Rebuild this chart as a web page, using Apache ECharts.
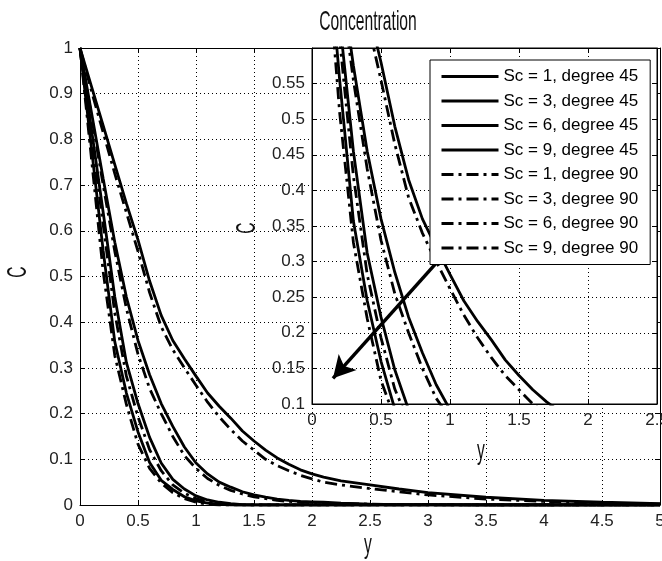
<!DOCTYPE html>
<html>
<head>
<meta charset="utf-8">
<script src="https://cdn.jsdelivr.net/npm/echarts@6/dist/echarts.min.js"></script>
<style>html,body{margin:0;padding:0;background:#fff;}#c{width:662px;height:561px;}</style>
</head>
<body>
<div id="c"></div>
<script>
// ---- data ----
const yPos = [0,0.1,0.2,0.3,0.4,0.5,0.6,0.7,0.8,0.9,1.0,1.1,1.2,1.3,1.4,1.5,1.6,1.7,1.8,1.9,2.0,2.1,2.25,2.5,2.75,3.0,3.5,4.0,4.5,5.0];
const cSc1Deg45 = [1.0,0.915,0.83,0.745,0.66,0.58,0.49,0.415,0.36,0.32,0.282,0.245,0.216,0.19,0.162,0.14,0.12,0.103,0.089,0.077,0.068,0.061,0.053,0.044,0.035,0.027,0.017,0.01,0.006,0.003];
const cSc3Deg45 = [1.0,0.857,0.714,0.575,0.455,0.36,0.285,0.222,0.172,0.127,0.092,0.068,0.05,0.039,0.029,0.022,0.017,0.013,0.01,0.008,0.007,0.006,0.004,0.002,0.001,0.001,0,0,0,0];
const cSc6Deg45 = [1.0,0.82,0.64,0.455,0.312,0.222,0.148,0.092,0.056,0.035,0.02,0.011,0.006,0.003,0.001,0,0,0,0,0,0,0,0,0,0,0,0,0,0,0];
const cSc9Deg45 = [1.0,0.778,0.556,0.357,0.245,0.16,0.093,0.054,0.034,0.018,0.009,0.004,0.002,0,0,0,0,0,0,0,0,0,0,0,0,0,0,0,0,0];
const cSc1Deg90 = [1.0,0.905,0.815,0.725,0.64,0.555,0.465,0.39,0.34,0.30,0.262,0.225,0.193,0.165,0.14,0.12,0.1,0.086,0.075,0.065,0.057,0.05,0.044,0.036,0.029,0.022,0.013,0.008,0.004,0.002];
const cSc3Deg90 = [1.0,0.85,0.70,0.555,0.43,0.33,0.255,0.2,0.15,0.108,0.08,0.058,0.043,0.032,0.024,0.018,0.014,0.01,0.008,0.006,0.005,0.004,0.003,0.002,0.001,0.001,0,0,0,0];
const cSc6Deg90 = [1.0,0.806,0.613,0.42,0.282,0.193,0.121,0.075,0.044,0.026,0.014,0.007,0.003,0.001,0,0,0,0,0,0,0,0,0,0,0,0,0,0,0,0];
const cSc9Deg90 = [1.0,0.755,0.51,0.327,0.22,0.133,0.08,0.048,0.027,0.014,0.006,0.002,0,0,0,0,0,0,0,0,0,0,0,0,0,0,0,0,0,0];
const seriesNames = ['Sc = 1, degree 45','Sc = 3, degree 45','Sc = 6, degree 45','Sc = 9, degree 45',
                     'Sc = 1, degree 90','Sc = 3, degree 90','Sc = 6, degree 90','Sc = 9, degree 90'];
const seriesValues = [cSc1Deg45,cSc3Deg45,cSc6Deg45,cSc9Deg45,cSc1Deg90,cSc3Deg90,cSc6Deg90,cSc9Deg90];
const seriesDashDot = [false,false,false,false,true,true,true,true];
const arrowFrom = [1.27, 0.378];
const arrowTo = [0.152, 0.136];
const titleText = 'Concentration';
const xName = 'y';
const yName = 'C';

// ---- chart ----
const chart = echarts.init(document.getElementById('c'), null, {renderer: 'canvas'});
const labelFont = {fontFamily: 'Liberation Sans, Arial, sans-serif', fontSize: 17, color: '#222'};
const gridLine = {show: true, lineStyle: {color: '#000', type: [1, 3], width: 1}};
const tick = {show: true, inside: true, length: 5, lineStyle: {color: '#000'}};
const aLine = {show: true, onZero: false, lineStyle: {color: '#000', width: 1}};

function xAx(grid, pos, min, max, interval, labels, z) {
  return {type: 'value', gridIndex: grid, position: pos, min: min, max: max, interval: interval, z: z,
    axisLine: aLine, axisTick: tick, splitLine: labels ? gridLine : {show: false},
    axisLabel: labels ? Object.assign({show: true, margin: 8}, labelFont) : {show: false}};
}
function yAx(grid, pos, min, max, interval, labels, z, hideMax) {
  return {type: 'value', gridIndex: grid, position: pos, min: min, max: max, interval: interval, z: z,
    axisLine: aLine, axisTick: tick, splitLine: labels ? gridLine : {show: false},
    axisLabel: labels ? Object.assign({show: true, margin: 7, showMaxLabel: !hideMax}, labelFont) : {show: false}};
}

const series = [];
[0, 2].forEach(function (ax) {
  seriesNames.forEach(function (name, i) {
    const s = {
      name: name, type: 'line', xAxisIndex: ax, yAxisIndex: ax,
      data: yPos.map(function (x, j) { return [x, seriesValues[i][j]]; }),
      symbol: 'none', smooth: false, clip: true,
      z: ax === 0 ? 1 : 7,
      itemStyle: {color: '#000'},
      lineStyle: {color: '#000', width: 2.8, type: seriesDashDot[i] ? [12, 5, 3, 5] : 'solid'}
    };
    if (ax === 2 && i === 0) {
      s.markLine = {silent: true, symbol: ['none', 'arrow'], symbolSize: [18, 22],
        label: {show: false}, animation: false,
        lineStyle: {color: '#000', width: 3.5, type: 'solid'},
        data: [[{coord: arrowFrom}, {coord: arrowTo}]]};
    }
    series.push(s);
  });
});

const narrow = {fontFamily: 'Liberation Sans, Arial, sans-serif', fontSize: 28, fill: '#111'};
function txt(text, x, y, rot) {
  return {type: 'text', x: x, y: y, rotation: rot || 0, scaleX: 0.56, z: 20,
    style: Object.assign({text: text, align: 'center', verticalAlign: 'middle',
      textAlign: 'center', textVerticalAlign: 'middle'}, narrow)};
}

chart.setOption({
  animation: false,
  backgroundColor: '#fff',
  grid: [
    {left: 80, top: 48, width: 580, height: 457, show: false, outerBoundsMode: 'none', containLabel: false},
    {left: 312, top: 48, width: 345, height: 356, show: true, backgroundColor: '#fff',
     borderColor: '#000', borderWidth: 1, z: 5, outerBoundsMode: 'none', containLabel: false}
  ],
  xAxis: [
    xAx(0, 'bottom', 0, 5, 0.5, true, 0),
    xAx(0, 'top', 0, 5, 0.5, false, 0),
    xAx(1, 'bottom', 0, 2.5, 0.5, true, 6),
    xAx(1, 'top', 0, 2.5, 0.5, false, 6)
  ],
  yAxis: [
    yAx(0, 'left', 0, 1, 0.1, true, 0, false),
    yAx(0, 'right', 0, 1, 0.1, false, 0, false),
    yAx(1, 'left', 0.1, 0.6, 0.05, true, 6, true),
    yAx(1, 'right', 0.1, 0.6, 0.05, false, 6, true)
  ],
  legend: {
    data: seriesNames, orient: 'vertical', left: 430, top: 60, z: 10,
    backgroundColor: '#fff', borderColor: '#000', borderWidth: 1,
    padding: [8, 12, 8, 10], itemWidth: 57, itemHeight: 14, itemGap: 7.5,
    selectedMode: false,
    itemStyle: {color: 'rgba(0,0,0,0)', borderColor: 'rgba(0,0,0,0)', borderWidth: 0, opacity: 0},
    lineStyle: {width: 3},
    textStyle: {fontFamily: 'Liberation Sans, Arial, sans-serif', fontSize: 17, lineHeight: 17, color: '#000'}
  },
  graphic: [
    txt(titleText, 368, 22.5),
    txt(xName, 368, 545),
    txt(xName, 481, 451),
    txt(yName, 18, 272, Math.PI / 2),
    txt(yName, 247, 228, Math.PI / 2)
  ],
  series: series
});
</script>
</body>
</html>
